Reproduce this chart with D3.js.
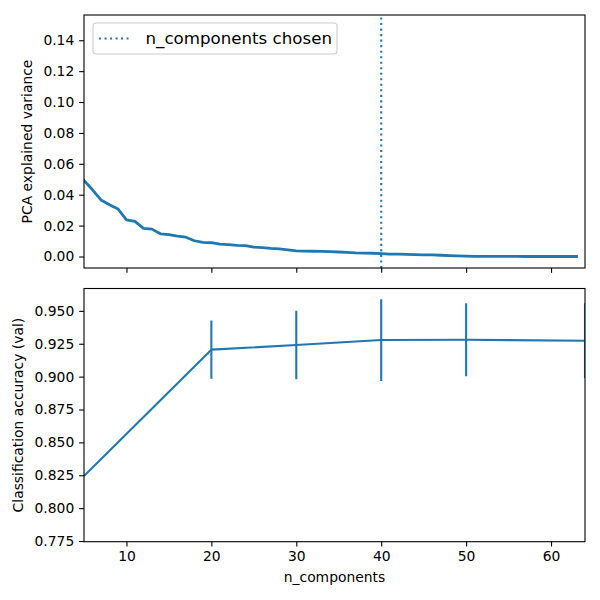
<!DOCTYPE html>
<html><head><meta charset="utf-8">
<script src="https://cdn.jsdelivr.net/npm/d3@7"></script>
<style>body{margin:0;background:#fff} text{font-family:"DejaVu Sans",sans-serif}</style>
</head><body><svg id="c" width="600" height="600"></svg>
<script>
// ---- data ----
const pcaComponents = [0,1,2,3,4,5,6,7,8,9,10,11,12,13,14,15,16,17,18,19,20,21,22,23,24,25,26,27,28,29,30,31,32,33,34,35,36,37,38,39,40,41,42,43,44,45,46,47,48,49,50,51,52,53,54,55,56,57,58,59,60,61,62,63];
const explainedVariance = [0.1489,0.1362,0.1179,0.0841,0.0578,0.0492,0.0432,0.0366,0.0335,0.0308,0.0237,0.0227,0.0182,0.0177,0.0147,0.0141,0.0132,0.0125,0.0102,0.0091,0.0089,0.0080,0.0077,0.0072,0.0070,0.0060,0.0058,0.0052,0.0049,0.0043,0.0037,0.0035,0.0034,0.0033,0.0031,0.0029,0.0026,0.0023,0.0022,0.0021,0.0019,0.0016,0.0015,0.0014,0.0012,0.0011,0.0010,0.0008,0.0006,0.0004,0.0002,0.0001,0.00005,0.00005,0.00003,0.00001,0.00001,0,0,0,0,0,0,0];
const nComponentsChosen = 40;
const nComponents = [5, 20, 30, 40, 50, 64];
const meanAccuracy = [0.8245, 0.9205, 0.9240, 0.9278, 0.9280, 0.9273];
const stdAccuracy = [0, 0.0222, 0.0260, 0.0311, 0.0277, 0.0285];
const xTicks = [10, 20, 30, 40, 50, 60];
const topYTicks = [0.00, 0.02, 0.04, 0.06, 0.08, 0.10, 0.12, 0.14];
const botYTicks = [0.775, 0.800, 0.825, 0.850, 0.875, 0.900, 0.925, 0.950];

// ---- layout ----
const svg = d3.select("#c");
const L = 84, R = 585, T1 = 15, B1 = 268, T2 = 288.5, B2 = 541.7;
const blue = "#1f77b4";
const fs = 13.89;

const x = d3.scaleLinear().domain([5, 64]).range([L, R]);
const y1 = d3.scaleLinear().domain([-0.00745, 0.15635]).range([B1, T1]);
const y2 = d3.scaleLinear().domain([0.7745, 0.9670]).range([B2, T2]);

const defs = svg.append("defs");
defs.append("clipPath").attr("id","cp1").append("rect").attr("x",L).attr("y",T1).attr("width",R-L).attr("height",B1-T1);
defs.append("clipPath").attr("id","cp2").append("rect").attr("x",L).attr("y",T2).attr("width",R-L).attr("height",B2-T2);

// ---- top panel ----
const g1 = svg.append("g").attr("clip-path","url(#cp1)");
g1.append("path")
  .datum(pcaComponents.map((c,i)=>[c, explainedVariance[i]]))
  .attr("fill","none").attr("stroke",blue).attr("stroke-width",2.78)
  .attr("stroke-linejoin","round").attr("stroke-linecap","square")
  .attr("d", d3.line().x(d=>x(d[0])).y(d=>y1(d[1])));
g1.append("line")
  .attr("x1", x(nComponentsChosen)).attr("x2", x(nComponentsChosen))
  .attr("y1", B1).attr("y2", T1)
  .attr("stroke", blue).attr("stroke-width", 2.08)
  .attr("stroke-dasharray", "2.08,3.44");

function styleAxis(g){
  g.select(".domain").remove();
  g.selectAll(".tick line").attr("stroke","#000").attr("stroke-width",1.1);
  g.selectAll(".tick text").attr("fill","#000").style("font-size", fs+"px").style("font-family","DejaVu Sans");
}
svg.append("g").attr("transform",`translate(0,${B1})`)
  .call(d3.axisBottom(x).tickValues(xTicks).tickSize(4.86).tickFormat(""))
  .call(styleAxis);
svg.append("g").attr("transform",`translate(${L},0)`)
  .call(d3.axisLeft(y1).tickValues(topYTicks).tickSize(4.86).tickPadding(4.86).tickFormat(d3.format(".2f")))
  .call(styleAxis);
svg.append("rect").attr("x",L).attr("y",T1).attr("width",R-L).attr("height",B1-T1)
  .attr("fill","none").attr("stroke","#000").attr("stroke-width",1.1);

// legend
const lg = svg.append("g");
lg.append("rect").attr("x",93).attr("y",23).attr("width",244).attr("height",31).attr("rx",3.3)
  .attr("fill","#fff").attr("fill-opacity",0.8).attr("stroke","#cccccc").attr("stroke-width",1.1);
lg.append("line").attr("x1",99).attr("x2",128.5).attr("y1",38.5).attr("y2",38.5)
  .attr("stroke",blue).attr("stroke-width",2.08).attr("stroke-dasharray","2.08,3.44");
lg.append("text").attr("x",145.5).attr("y",44.3).style("font-size","16.67px").text("n_components chosen");

svg.append("text").attr("transform",`translate(31.7,${(T1+B1)/2}) rotate(-90)`)
  .attr("text-anchor","middle").style("font-size",fs+"px").text("PCA explained variance");

// ---- bottom panel ----
const g2 = svg.append("g").attr("clip-path","url(#cp2)");
g2.append("path")
  .datum(nComponents.map((c,i)=>[c, meanAccuracy[i]]))
  .attr("fill","none").attr("stroke",blue).attr("stroke-width",2.08)
  .attr("stroke-linejoin","round")
  .attr("d", d3.line().x(d=>x(d[0])).y(d=>y2(d[1])));
g2.selectAll("line.err").data(nComponents.map((c,i)=>({c, m:meanAccuracy[i], s:stdAccuracy[i]})).filter(d=>d.s>0))
  .join("line").attr("class","err")
  .attr("x1", d=>x(d.c)).attr("x2", d=>x(d.c))
  .attr("y1", d=>y2(d.m - d.s)).attr("y2", d=>y2(d.m + d.s))
  .attr("stroke", blue).attr("stroke-width", 2.08);

svg.append("g").attr("transform",`translate(0,${B2})`)
  .call(d3.axisBottom(x).tickValues(xTicks).tickSize(4.86).tickPadding(4.86).tickFormat(d3.format("d")))
  .call(styleAxis);
svg.append("g").attr("transform",`translate(${L},0)`)
  .call(d3.axisLeft(y2).tickValues(botYTicks).tickSize(4.86).tickPadding(4.86).tickFormat(d3.format(".3f")))
  .call(styleAxis);
svg.append("rect").attr("x",L).attr("y",T2).attr("width",R-L).attr("height",B2-T2)
  .attr("fill","none").attr("stroke","#000").attr("stroke-width",1.1);

svg.append("text").attr("transform",`translate(23.3,${(T2+B2)/2}) rotate(-90)`)
  .attr("text-anchor","middle").style("font-size",fs+"px").text("Classification accuracy (val)");
svg.append("text").attr("x",(L+R)/2).attr("y",582).attr("text-anchor","middle")
  .style("font-size",fs+"px").text("n_components");
</script></body></html>
